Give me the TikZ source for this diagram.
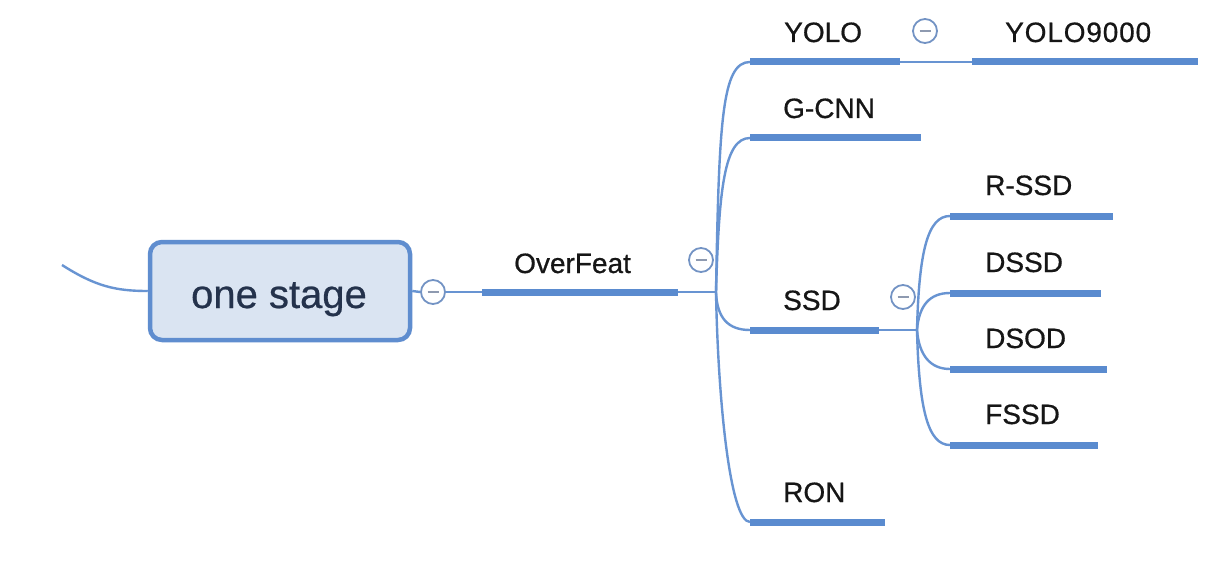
\documentclass[tikz,border=0pt]{standalone}
\usepackage{fontspec}
\setmainfont{Liberation Sans}
\newfontfamily\lblfont[FakeBold=0.6]{Liberation Sans}
\newfontfamily\lblwidefont[FakeBold=0.6,LetterSpace=3]{Liberation Sans}
\definecolor{barblue}{HTML}{5A8BCF}
\definecolor{lineblue}{HTML}{6894D2}
\definecolor{boxfill}{HTML}{DAE4F2}
\definecolor{boxborder}{HTML}{5F8DCF}
\definecolor{knobblue}{HTML}{7393C4}
\definecolor{minusgray}{HTML}{8E9AB0}
\definecolor{labeltext}{HTML}{161616}
\definecolor{navytext}{HTML}{24324C}
\begin{document}
\begin{tikzpicture}[x=1pt,y=-1pt,
  bar/.style={line width=7pt, draw=barblue, line cap=butt},
  thinline/.style={line width=2.4pt, draw=lineblue},
  lbl/.style={anchor=base west, inner sep=0pt, text=labeltext, font=\lblfont\fontsize{28}{34}\selectfont},
  knob/.style={circle, draw=knobblue, line width=1.8pt, fill=white, minimum size=24pt, inner sep=0pt,
    path picture={\draw[line width=2.2pt, draw=minusgray] ([xshift=-5.5pt]path picture bounding box.center) -- ([xshift=5.5pt]path picture bounding box.center);}},
]
\useasboundingbox[fill=white] (0,0) rectangle (1222,580);

% central box
\node[draw=boxborder, line width=4.5pt, fill=boxfill, rounded corners=12pt,
      minimum width=260pt, minimum height=98pt, inner sep=0pt] (box) at (280,291) {};
\node[anchor=base, inner sep=0pt, text=navytext, font=\lblfont\fontsize{40}{48}\selectfont] (boxtext) at (279,308) {one stage};

% incoming
\coordinate (inS) at (62,265);
\draw[thinline] (inS) .. controls (95,286) and (115,291) .. (box.west);

% knobs
\node[knob] (k1) at (433,292) {};
\node[knob] (k2) at (701,260) {};
\node[knob] (k3) at (925,31) {};
\node[knob] (k4) at (903,297) {};

% bar coordinates
\coordinate (ofS) at (482,292);   \coordinate (ofE) at (678,292);
\coordinate (j1) at (716,292);
\coordinate (yoS) at (750,62);    \coordinate (yoE) at (900,62);
\coordinate (gcS) at (750,138);   \coordinate (gcE) at (921,138);
\coordinate (ssS) at (750,330);   \coordinate (ssE) at (879,330);
\coordinate (roS) at (750,522);   \coordinate (roE) at (885,522);
\coordinate (y9S) at (972,62);    \coordinate (y9E) at (1198,62);
\coordinate (j2) at (917,330);
\coordinate (rsS) at (950,216);   \coordinate (rsE) at (1113,216);
\coordinate (dsS) at (950,293);   \coordinate (dsE) at (1101,293);
\coordinate (doS) at (950,369);   \coordinate (doE) at (1107,369);
\coordinate (fsS) at (950,445);   \coordinate (fsE) at (1098,445);

% connectors
\draw[thinline] (box.east) -- (k1.west);
\draw[thinline] (k1.east) -- (ofS);
\draw[thinline] (ofE) -- (j1);
\draw[thinline] (j1) .. controls (719,120) and (722,62) .. (yoS);
\draw[thinline] (j1) .. controls (719,190) and (724,138) .. (gcS);
\draw[thinline] (j1) .. controls (717,318) and (728,330) .. (ssS);
\draw[thinline] (j1) .. controls (718,400) and (730,522) .. (roS);
\draw[thinline] (yoE) -- (y9S);
\draw[thinline] (ssE) -- (j2);
\draw[thinline] (j2) .. controls (919,250) and (928,216) .. (rsS);
\draw[thinline] (j2) .. controls (919,305) and (930,293) .. (dsS);
\draw[thinline] (j2) .. controls (919,355) and (930,369) .. (doS);
\draw[thinline] (j2) .. controls (919,410) and (928,445) .. (fsS);

% bars
\draw[bar] (ofS) -- (ofE);
\draw[bar] (yoS) -- (yoE);
\draw[bar] (gcS) -- (gcE);
\draw[bar] (ssS) -- (ssE);
\draw[bar] (roS) -- (roE);
\draw[bar] (y9S) -- (y9E);
\draw[bar] (rsS) -- (rsE);
\draw[bar] (dsS) -- (dsE);
\draw[bar] (doS) -- (doE);
\draw[bar] (fsS) -- (fsE);

% labels
\node[lbl] (tof) at (514,273) {OverFeat};
\node[lbl] (tyo) at (784,42) {YOLO};
\node[lbl] (tgc) at (783,118) {G-CNN};
\node[lbl] (tss) at (783,310) {SSD};
\node[lbl] (tro) at (783,502) {RON};
\node[lbl, font=\lblwidefont\fontsize{28}{34}\selectfont] (ty9) at (1005,42) {YOLO9000};
\node[lbl] (trs) at (985,195) {R-SSD};
\node[lbl] (tds) at (985,272) {DSSD};
\node[lbl] (tdo) at (985,348) {DSOD};
\node[lbl] (tfs) at (985,424) {FSSD};
\end{tikzpicture}
\end{document}
